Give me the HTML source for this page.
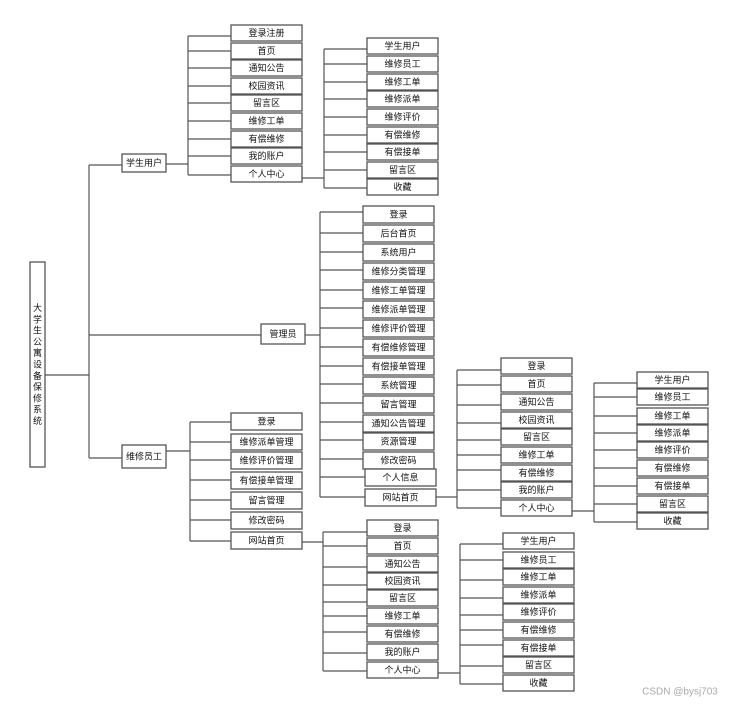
<!DOCTYPE html>
<html><head><meta charset="utf-8"><style>
html,body{margin:0;padding:0;background:#fff;}
svg{display:block;}
text{font-family:"Liberation Sans","Noto Sans CJK SC",sans-serif;font-size:9px;fill:#111;text-anchor:middle;dominant-baseline:central;}
rect{fill:#fff;stroke:#555;stroke-width:1.3;}
line{stroke:#555;stroke-width:1.2;}
</style></head><body>
<svg width="738" height="706" viewBox="0 0 738 706" xmlns="http://www.w3.org/2000/svg">
<!-- root -->
<line x1="45" y1="375" x2="89" y2="375"/>
<line x1="89" y1="165" x2="89" y2="458"/>
<line x1="89" y1="165" x2="122" y2="165"/>
<line x1="89" y1="335" x2="261" y2="335"/>
<line x1="89" y1="458" x2="122" y2="458"/>
<rect x="30" y="262" width="15" height="205"/>
<text x="37.5" y="308">大</text><text x="37.5" y="319.3">学</text><text x="37.5" y="330.6">生</text><text x="37.5" y="341.9">公</text><text x="37.5" y="353.2">寓</text><text x="37.5" y="364.5">设</text><text x="37.5" y="375.8">备</text><text x="37.5" y="387.1">保</text><text x="37.5" y="398.4">修</text><text x="37.5" y="409.7">系</text><text x="37.5" y="421">统</text>
<rect x="122" y="154" width="44" height="18"/><text x="144" y="163">学生用户</text>
<rect x="261" y="324" width="44" height="20"/><text x="283" y="334">管理员</text>
<rect x="122" y="445" width="44" height="23"/><text x="144" y="456.5">维修员工</text>

<!-- student group -->
<line x1="166" y1="164" x2="188" y2="164"/>
<line x1="188" y1="36" x2="188" y2="175"/>
<line x1="188" y1="36" x2="231" y2="36"/><line x1="188" y1="51" x2="231" y2="51"/><line x1="188" y1="68" x2="231" y2="68"/><line x1="188" y1="86" x2="231" y2="86"/><line x1="188" y1="103" x2="231" y2="103"/><line x1="188" y1="121" x2="231" y2="121"/><line x1="188" y1="139" x2="231" y2="139"/><line x1="188" y1="156" x2="231" y2="156"/><line x1="188" y1="175" x2="231" y2="175"/>
<rect x="231" y="25" width="71" height="16"/><text x="266.5" y="33">登录注册</text>
<rect x="231" y="43" width="71" height="16"/><text x="266.5" y="51">首页</text>
<rect x="231" y="60" width="71" height="16"/><text x="266.5" y="68">通知公告</text>
<rect x="231" y="78" width="71" height="16"/><text x="266.5" y="86">校园资讯</text>
<rect x="231" y="95" width="71" height="16"/><text x="266.5" y="103">留言区</text>
<rect x="231" y="113" width="71" height="16"/><text x="266.5" y="121">维修工单</text>
<rect x="231" y="131" width="71" height="16"/><text x="266.5" y="139">有偿维修</text>
<rect x="231" y="148" width="71" height="16"/><text x="266.5" y="156">我的账户</text>
<rect x="231" y="166" width="71" height="16"/><text x="266.5" y="174">个人中心</text>
<line x1="302" y1="178" x2="324" y2="178"/>
<line x1="324" y1="49" x2="324" y2="188"/>
<line x1="324" y1="49" x2="367" y2="49"/><line x1="324" y1="64" x2="367" y2="64"/><line x1="324" y1="82" x2="367" y2="82"/><line x1="324" y1="99" x2="367" y2="99"/><line x1="324" y1="117" x2="367" y2="117"/><line x1="324" y1="135" x2="367" y2="135"/><line x1="324" y1="152" x2="367" y2="152"/><line x1="324" y1="170" x2="367" y2="170"/><line x1="324" y1="188" x2="367" y2="188"/>
<rect x="367" y="38" width="71" height="16"/><text x="402.5" y="46">学生用户</text>
<rect x="367" y="56" width="71" height="16"/><text x="402.5" y="64">维修员工</text>
<rect x="367" y="74" width="71" height="16"/><text x="402.5" y="82">维修工单</text>
<rect x="367" y="91" width="71" height="16"/><text x="402.5" y="99">维修派单</text>
<rect x="367" y="109" width="71" height="16"/><text x="402.5" y="117">维修评价</text>
<rect x="367" y="127" width="71" height="16"/><text x="402.5" y="135">有偿维修</text>
<rect x="367" y="144" width="71" height="16"/><text x="402.5" y="152">有偿接单</text>
<rect x="367" y="162" width="71" height="16"/><text x="402.5" y="170">留言区</text>
<rect x="367" y="179" width="71" height="16"/><text x="402.5" y="187">收藏</text>

<!-- admin group -->
<line x1="305" y1="335" x2="320" y2="335"/>
<line x1="320" y1="212" x2="320" y2="497"/>
<line x1="320" y1="212" x2="363" y2="212"/><line x1="320" y1="233" x2="363" y2="233"/><line x1="320" y1="252" x2="363" y2="252"/><line x1="320" y1="270" x2="363" y2="270"/><line x1="320" y1="290" x2="363" y2="290"/><line x1="320" y1="308" x2="363" y2="308"/><line x1="320" y1="328" x2="363" y2="328"/><line x1="320" y1="347" x2="363" y2="347"/><line x1="320" y1="366" x2="363" y2="366"/><line x1="320" y1="384" x2="363" y2="384"/><line x1="320" y1="403" x2="363" y2="403"/><line x1="320" y1="422" x2="363" y2="422"/><line x1="320" y1="440" x2="363" y2="440"/><line x1="320" y1="459" x2="363" y2="459"/><line x1="320" y1="477" x2="365" y2="477"/><line x1="320" y1="497" x2="365" y2="497"/>
<rect x="363" y="206" width="71" height="17"/><text x="398.5" y="214.5">登录</text>
<rect x="363" y="225" width="71" height="17"/><text x="398.5" y="233.5">后台首页</text>
<rect x="363" y="244" width="71" height="17"/><text x="398.5" y="252.5">系统用户</text>
<rect x="363" y="263" width="71" height="17"/><text x="398.5" y="271.5">维修分类管理</text>
<rect x="363" y="282" width="71" height="17"/><text x="398.5" y="290.5">维修工单管理</text>
<rect x="363" y="301" width="71" height="17"/><text x="398.5" y="309.5">维修派单管理</text>
<rect x="363" y="320" width="71" height="17"/><text x="398.5" y="328.5">维修评价管理</text>
<rect x="363" y="339" width="71" height="17"/><text x="398.5" y="347.5">有偿维修管理</text>
<rect x="363" y="358" width="71" height="17"/><text x="398.5" y="366.5">有偿接单管理</text>
<rect x="363" y="377" width="71" height="17"/><text x="398.5" y="385.5">系统管理</text>
<rect x="363" y="396" width="71" height="17"/><text x="398.5" y="404.5">留言管理</text>
<rect x="363" y="415" width="71" height="17"/><text x="398.5" y="423.5">通知公告管理</text>
<rect x="363" y="433" width="71" height="17"/><text x="398.5" y="441.5">资源管理</text>
<rect x="363" y="452" width="71" height="17"/><text x="398.5" y="460.5">修改密码</text>
<rect x="365" y="469" width="71" height="17"/><text x="400.5" y="477.5">个人信息</text>
<rect x="365" y="489" width="71" height="17"/><text x="400.5" y="497.5">网站首页</text>
<line x1="436" y1="497" x2="457" y2="497"/>
<line x1="457" y1="370" x2="457" y2="508"/>
<line x1="457" y1="370" x2="501" y2="370"/><line x1="457" y1="385" x2="501" y2="385"/><line x1="457" y1="405" x2="501" y2="405"/><line x1="457" y1="423" x2="501" y2="423"/><line x1="457" y1="440" x2="501" y2="440"/><line x1="457" y1="455" x2="501" y2="455"/><line x1="457" y1="470" x2="501" y2="470"/><line x1="457" y1="490" x2="501" y2="490"/><line x1="457" y1="508" x2="501" y2="508"/>
<rect x="501" y="358" width="71" height="16"/><text x="536.5" y="366">登录</text>
<rect x="501" y="376" width="71" height="16"/><text x="536.5" y="384">首页</text>
<rect x="501" y="394" width="71" height="16"/><text x="536.5" y="402">通知公告</text>
<rect x="501" y="412" width="71" height="16"/><text x="536.5" y="420">校园资讯</text>
<rect x="501" y="429" width="71" height="16"/><text x="536.5" y="437">留言区</text>
<rect x="501" y="447" width="71" height="16"/><text x="536.5" y="455">维修工单</text>
<rect x="501" y="465" width="71" height="16"/><text x="536.5" y="473">有偿维修</text>
<rect x="501" y="482" width="71" height="16"/><text x="536.5" y="490">我的账户</text>
<rect x="501" y="500" width="71" height="16"/><text x="536.5" y="508">个人中心</text>
<line x1="572" y1="511" x2="594" y2="511"/>
<line x1="594" y1="383" x2="594" y2="522"/>
<line x1="594" y1="383" x2="637" y2="383"/><line x1="594" y1="397" x2="637" y2="397"/><line x1="594" y1="416" x2="637" y2="416"/><line x1="594" y1="433" x2="637" y2="433"/><line x1="594" y1="450" x2="637" y2="450"/><line x1="594" y1="468" x2="637" y2="468"/><line x1="594" y1="486" x2="637" y2="486"/><line x1="594" y1="504" x2="637" y2="504"/><line x1="594" y1="522" x2="637" y2="522"/>
<rect x="637" y="372" width="71" height="16"/><text x="672.5" y="380">学生用户</text>
<rect x="637" y="389" width="71" height="16"/><text x="672.5" y="397">维修员工</text>
<rect x="637" y="408" width="71" height="16"/><text x="672.5" y="416">维修工单</text>
<rect x="637" y="425" width="71" height="16"/><text x="672.5" y="433">维修派单</text>
<rect x="637" y="442" width="71" height="16"/><text x="672.5" y="450">维修评价</text>
<rect x="637" y="460" width="71" height="16"/><text x="672.5" y="468">有偿维修</text>
<rect x="637" y="478" width="71" height="16"/><text x="672.5" y="486">有偿接单</text>
<rect x="637" y="496" width="71" height="16"/><text x="672.5" y="504">留言区</text>
<rect x="637" y="513" width="71" height="16"/><text x="672.5" y="521">收藏</text>

<!-- worker group -->
<line x1="166" y1="451" x2="190" y2="451"/>
<line x1="190" y1="422" x2="190" y2="541"/>
<line x1="190" y1="422" x2="231" y2="422"/><line x1="190" y1="442" x2="231" y2="442"/><line x1="190" y1="460" x2="231" y2="460"/><line x1="190" y1="480" x2="231" y2="480"/><line x1="190" y1="500" x2="231" y2="500"/><line x1="190" y1="520" x2="231" y2="520"/><line x1="190" y1="541" x2="231" y2="541"/>
<rect x="231" y="413" width="71" height="17"/><text x="266.5" y="421.5">登录</text>
<rect x="231" y="434" width="71" height="16"/><text x="266.5" y="442">维修派单管理</text>
<rect x="231" y="452" width="71" height="17"/><text x="266.5" y="460.5">维修评价管理</text>
<rect x="231" y="472" width="71" height="17"/><text x="266.5" y="480.5">有偿接单管理</text>
<rect x="231" y="492" width="71" height="17"/><text x="266.5" y="500.5">留言管理</text>
<rect x="231" y="512" width="71" height="17"/><text x="266.5" y="520.5">修改密码</text>
<rect x="231" y="532" width="71" height="17"/><text x="266.5" y="540.5">网站首页</text>
<line x1="302" y1="542" x2="323" y2="542"/>
<line x1="323" y1="532" x2="323" y2="671"/>
<line x1="323" y1="532" x2="367" y2="532"/><line x1="323" y1="546" x2="367" y2="546"/><line x1="323" y1="567" x2="367" y2="567"/><line x1="323" y1="585" x2="367" y2="585"/><line x1="323" y1="602" x2="367" y2="602"/><line x1="323" y1="616" x2="367" y2="616"/><line x1="323" y1="632" x2="367" y2="632"/><line x1="323" y1="653" x2="367" y2="653"/><line x1="323" y1="671" x2="367" y2="671"/>
<rect x="367" y="520" width="71" height="16"/><text x="402.5" y="528">登录</text>
<rect x="367" y="538" width="71" height="16"/><text x="402.5" y="546">首页</text>
<rect x="367" y="556" width="71" height="16"/><text x="402.5" y="564">通知公告</text>
<rect x="367" y="573" width="71" height="16"/><text x="402.5" y="581">校园资讯</text>
<rect x="367" y="590" width="71" height="16"/><text x="402.5" y="598">留言区</text>
<rect x="367" y="608" width="71" height="16"/><text x="402.5" y="616">维修工单</text>
<rect x="367" y="626" width="71" height="16"/><text x="402.5" y="634">有偿维修</text>
<rect x="367" y="644" width="71" height="16"/><text x="402.5" y="652">我的账户</text>
<rect x="367" y="662" width="71" height="16"/><text x="402.5" y="670">个人中心</text>
<line x1="438" y1="673" x2="460" y2="673"/>
<line x1="460" y1="544" x2="460" y2="684"/>
<line x1="460" y1="544" x2="503" y2="544"/><line x1="460" y1="560" x2="503" y2="560"/><line x1="460" y1="580" x2="503" y2="580"/><line x1="460" y1="598" x2="503" y2="598"/><line x1="460" y1="615" x2="503" y2="615"/><line x1="460" y1="630" x2="503" y2="630"/><line x1="460" y1="645" x2="503" y2="645"/><line x1="460" y1="666" x2="503" y2="666"/><line x1="460" y1="684" x2="503" y2="684"/>
<rect x="503" y="533" width="71" height="16"/><text x="538.5" y="541">学生用户</text>
<rect x="503" y="552" width="71" height="16"/><text x="538.5" y="560">维修员工</text>
<rect x="503" y="569" width="71" height="16"/><text x="538.5" y="577">维修工单</text>
<rect x="503" y="587" width="71" height="16"/><text x="538.5" y="595">维修派单</text>
<rect x="503" y="604" width="71" height="16"/><text x="538.5" y="612">维修评价</text>
<rect x="503" y="622" width="71" height="16"/><text x="538.5" y="630">有偿维修</text>
<rect x="503" y="640" width="71" height="16"/><text x="538.5" y="648">有偿接单</text>
<rect x="503" y="657" width="71" height="16"/><text x="538.5" y="665">留言区</text>
<rect x="503" y="675" width="71" height="16"/><text x="538.5" y="683">收藏</text>

<text x="680" y="692" style="fill:#aaa;font-size:10px;">CSDN @bysj703</text>
</svg>
</body></html>
